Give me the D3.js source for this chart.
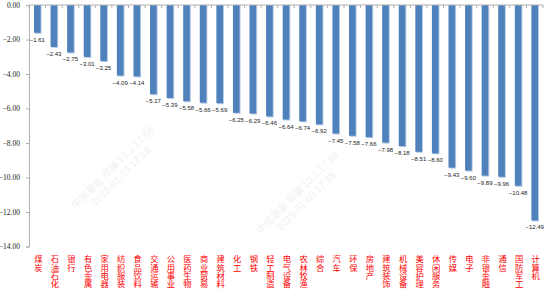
<!DOCTYPE html>
<html>
<head>
<meta charset="utf-8">
<script src="https://cdn.jsdelivr.net/npm/d3@7"></script>
<style>
  body { margin: 0; background: #fff; }
  svg { display: block; }
</style>
</head>
<body>
<div id="chart"></div>
<script>
// Industry returns (%), sorted from smallest drop to largest
var categories = ['煤炭', '石油石化', '银行', '有色金属', '家用电器', '纺织服装', '食品饮料', '交通运输',
  '公用事业', '医药生物', '商业贸易', '建筑材料', '化工', '钢铁', '轻工制造', '电气设备', '农林牧渔',
  '综合', '汽车', '环保', '房地产', '建筑装饰', '机械设备', '美容护理', '休闲服务', '传媒', '电子',
  '非银金融', '通信', '国防军工', '计算机']
var values = [-1.61, -2.43, -2.75, -3.01, -3.25, -4.09, -4.14, -5.17, -5.39, -5.58, -5.66, -5.69,
  -6.25, -6.29, -6.46, -6.64, -6.74, -6.92, -7.45, -7.58, -7.66, -7.98, -8.18, -8.51, -8.60,
  -9.43, -9.60, -9.89, -9.96, -10.48, -12.49]
var yTicks = [0, -2, -4, -6, -8, -10, -12, -14]

var width = 550
var height = 299

var svg = d3.select('#chart').append('svg')
  .attr('width', width)
  .attr('height', height)

// faint watermark, kept in the empty area under the bars
var wm = svg.append('g').attr('fill', '#f1f1f1').style('font-family', '"Noto Sans CJK SC", sans-serif').style('font-size', '10px')
;[[115, 170], [300, 195]].forEach(function (p) {
  var g = wm.append('g').attr('transform', 'translate(' + p[0] + ',' + p[1] + ')rotate(-45)')
  g.append('text').attr('text-anchor', 'middle').text('中加基金 祁骥 10.2.17.68')
  g.append('text').attr('text-anchor', 'middle').attr('y', 12).text('2025-01-03 17:18')
})

var x = d3.scaleBand()
  .domain(categories)
  .range([29, 543])
  .paddingInner(0.6)
  .paddingOuter(0.3)

var y = d3.scaleLinear()
  .domain([0, -14])
  .range([5, 246.5])

// y axis
var yAxis = svg.append('g')
  .attr('transform', 'translate(29,0)')
  .call(d3.axisLeft(y).tickValues(yTicks).tickSize(3).tickFormat(d3.format('.2f')))
yAxis.select('.domain').attr('stroke', '#b0b0b0')
yAxis.selectAll('.tick line').attr('stroke', '#b0b0b0')
yAxis.selectAll('.tick text')
  .attr('x', -9)
  .attr('fill', '#222')
  .style('font-family', '"Liberation Serif", serif')
  .style('font-size', '7.5px')

// bars: light edge behind, main fill on top
var bars = svg.append('g')
bars.selectAll('rect.edge')
  .data(values)
  .enter().append('rect')
  .attr('class', 'edge')
  .attr('x', function (d, i) { return x(categories[i]) + 1 })
  .attr('y', y(0))
  .attr('width', x.bandwidth())
  .attr('height', function (d) { return y(d) - y(0) + 1 })
  .attr('fill', '#b8cce4')
bars.selectAll('rect.bar')
  .data(values)
  .enter().append('rect')
  .attr('class', 'bar')
  .attr('x', function (d, i) { return x(categories[i]) })
  .attr('y', y(0))
  .attr('width', x.bandwidth())
  .attr('height', function (d) { return y(d) - y(0) })
  .attr('fill', '#4f81bd')

// category axis along zero line, ticks between bands
var xAxis = svg.append('g')
xAxis.append('line')
  .attr('x1', 29).attr('x2', 543)
  .attr('y1', y(0)).attr('y2', y(0))
  .attr('stroke', '#b0b0b0')
xAxis.selectAll('line.tick')
  .data(d3.range(categories.length + 1))
  .enter().append('line')
  .attr('class', 'tick')
  .attr('x1', function (i) { return 29 + (543 - 29) * i / categories.length })
  .attr('x2', function (i) { return 29 + (543 - 29) * i / categories.length })
  .attr('y1', y(0)).attr('y2', y(0) + 3)
  .attr('stroke', '#b0b0b0')

// value labels under each bar
svg.append('g').selectAll('text')
  .data(values)
  .enter().append('text')
  .attr('x', function (d, i) { return x(categories[i]) + x.bandwidth() / 2 })
  .attr('y', function (d) { return y(d) + 9 })
  .attr('text-anchor', 'middle')
  .attr('fill', '#222')
  .style('font-family', '"Liberation Sans", sans-serif')
  .style('font-size', '6px')
  .text(function (d) { return d3.format('.2f')(d) })

// vertical category labels in red
svg.append('g').selectAll('text')
  .data(categories)
  .enter().append('text')
  .attr('x', function (d) { return x(d) + x.bandwidth() / 2 + 1 })
  .attr('y', 255)
  .attr('fill', '#ff0000')
  .style('font-family', '"Noto Sans CJK SC", sans-serif')
  .style('font-size', '8.3px')
  .style('writing-mode', 'vertical-rl')
  .style('text-orientation', 'upright')
  .text(function (d) { return d })
</script>
</body>
</html>
